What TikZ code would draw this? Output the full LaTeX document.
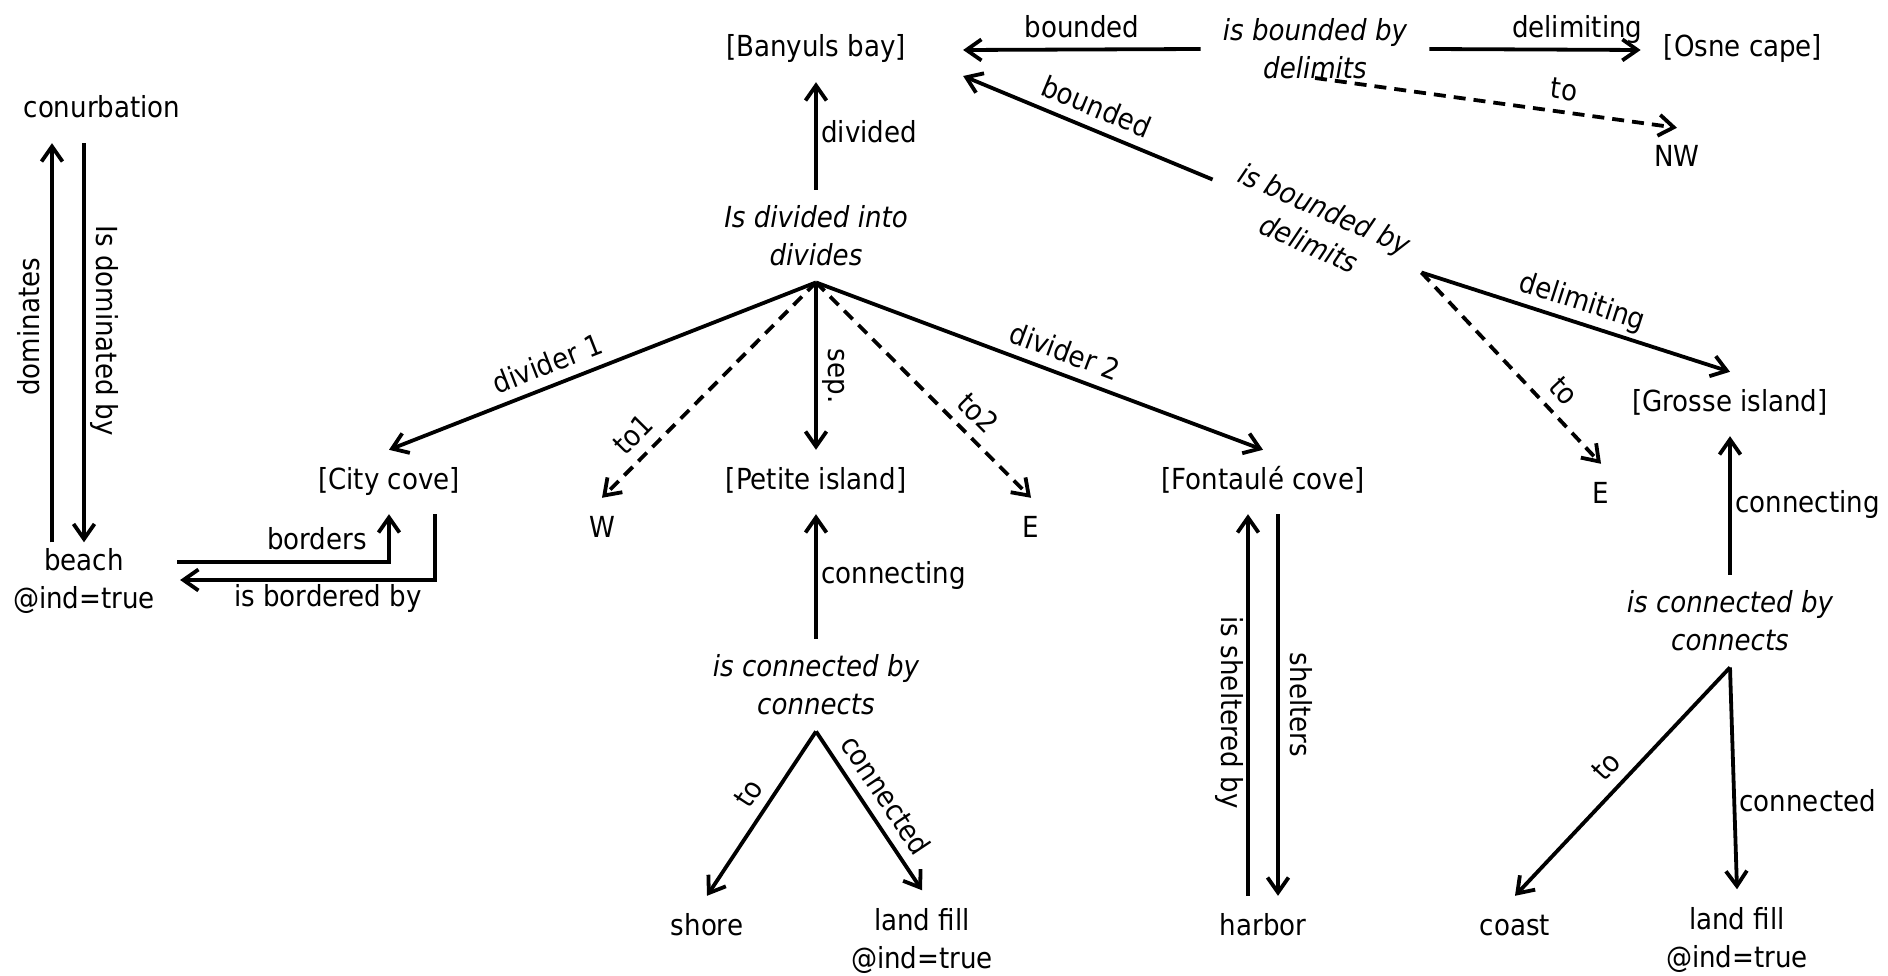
\documentclass[tikz,border=0pt]{standalone}
\usepackage{fontspec}
\setmainfont{DejaVu Sans Condensed}[ItalicFont={DejaVu Sans Condensed Oblique}]
\usetikzlibrary{arrows.meta}
\newcommand{\dgfont}{\fontsize{29pt}{38pt}\selectfont}

\begin{document}
\begin{tikzpicture}[x=1pt, y=-1pt, font=\dgfont,
    ent/.style={inner xsep=4pt, inner ysep=18pt, text height=21pt, text depth=7pt},
    ent2/.style={align=center, inner xsep=4pt, inner ysep=18pt},
    rel/.style={align=center, font=\dgfont\itshape, inner xsep=22pt, inner ysep=16pt},
    lab/.style={text height=21pt, text depth=7pt},
    arr/.style={-{Straight Barb[length=15pt, width=21pt]}, line width=3.8pt},
    darr/.style={arr, dash pattern=on 12pt off 8pt}]
    \fill[white] (0,0) rectangle (1888,976);
    \useasboundingbox (0,0) rectangle (1888,976);

    \node[ent] (conur) at (102,111) {conurbation};
    \node[ent2, inner ysep=6pt] (beach) at (84,581) {beach\\@ind=true};
    \node[ent] (city) at (389,482) {[City cove]};

    \node[ent] (bay) at (816,50) {[Banyuls bay]};
    \node[rel] (div) at (816,236) {Is divided into\\divides};
    \node[ent] (w) at (602,530) {W};
    \node[ent] (petite) at (816,482) {[Petite island]};
    \node[ent] (e1) at (1031,530) {E};
    \node[ent] (fonta) at (1263,482) {[Fontaulé cove]};
    \node[rel] (conn1) at (816,685) {is connected by\\connects};
    \node[ent] (shore) at (707,928) {shore};
    \node[ent2] (fill1) at (922,941) {land fill\\@ind=true};
    \node[ent] (harbor) at (1263,928) {harbor};

    \node[rel] (bnd1) at (1315,49) {is bounded by\\delimits};
    \node[ent] (osne) at (1743,50) {[Osne cape]};
    \node[ent] (nw) at (1677,160) {NW};
    \node[rel, rotate=-24] (bnd2) at (1317,226) {is bounded by\\delimits};
    \node[ent] (grosse) at (1730,404) {[Grosse island]};
    \node[ent] (e2) at (1601,496) {E};
    \node[rel] (conn2) at (1730,621) {is connected by\\connects};
    \node[ent] (coast) at (1515,928) {coast};
    \node[ent2] (fill2) at (1737,940) {land fill\\@ind=true};

    \draw[arr] (bnd1.west) -- node[lab, above] {bounded} ([xshift=53pt]bay.east);
    \draw[arr] (bnd1.east) -- node[lab, pos=0.7, above] {delimiting} ([xshift=-19pt]osne.west);
    \draw[darr] ([yshift=-29pt]bnd1.center) -- node[lab, pos=0.68, above, sloped] {to} (nw.north);
    \draw[arr] (bnd2.west) -- node[lab, above, sloped] {bounded} ([xshift=53pt, yshift=-26pt]bay.east);
    \draw[arr] (bnd2.east) -- node[lab, above, sloped] {delimiting} (grosse.north);
    \draw[darr] (bnd2.east) -- node[lab, pos=0.7, above, sloped] {to} (e2.north);

    \draw[arr] (div.north) -- node[lab, right] {divided} (bay.south);
    \draw[arr] (div.south) -- node[lab, pos=0.61, above, sloped] {divider 1} (city.north);
    \draw[darr] (div.south) -- node[lab, pos=0.78, above, sloped] {to1} (w.north);
    \draw[arr] (div.south) -- node[lab, pos=0.56, rotate=-90, anchor=south] {sep.} (petite.north);
    \draw[darr] (div.south) -- node[lab, pos=0.68, above, sloped] {to2} (e1.north);
    \draw[arr] (div.south) -- node[lab, pos=0.54, above, sloped] {divider 2} (fonta.north);

    \draw[arr] (conn1.north) -- node[lab, right] {connecting} (petite.south);
    \draw[arr] (conn1.south) -- node[lab, pos=0.45, above, sloped] {to} (shore.north);
    \draw[arr] (conn1.south) -- node[lab, pos=0.48, above, sloped] {connected} (fill1.north);
    \draw[arr] ([xshift=-15pt]harbor.north) -- node[lab, pos=0.48, rotate=-90, anchor=north] {is sheltered by} ([xshift=-15pt]fonta.south);
    \draw[arr] ([xshift=15pt]fonta.south) -- node[lab, rotate=-90, anchor=south] {shelters} ([xshift=15pt]harbor.north);

    \draw[arr] (conn2.north) -- node[lab, right] {connecting} (grosse.south);
    \draw[arr] (conn2.south) -- node[lab, above, sloped] {to} (coast.north);
    \draw[arr] (conn2.south) -- node[lab, pos=0.62, right] {connected} (fill2.north);

    \draw[arr] ([xshift=-32pt]beach.north) -- node[lab, pos=0.54, rotate=90, anchor=south] {dominates} ([xshift=-50pt]conur.south);
    \draw[arr] ([xshift=-18pt]conur.south) -- node[lab, pos=0.47, rotate=-90, anchor=south] {Is dominated by} (beach.north);
    \draw[arr] ([xshift=18pt, yshift=19pt]beach.east) -| node[lab, pos=0.33, above] {borders} (city.south);
    \draw[arr] ([xshift=46pt]city.south) |- node[lab, pos=0.71, below] {is bordered by} ([xshift=21pt, yshift=1pt]beach.east);
\end{tikzpicture}
\end{document}
